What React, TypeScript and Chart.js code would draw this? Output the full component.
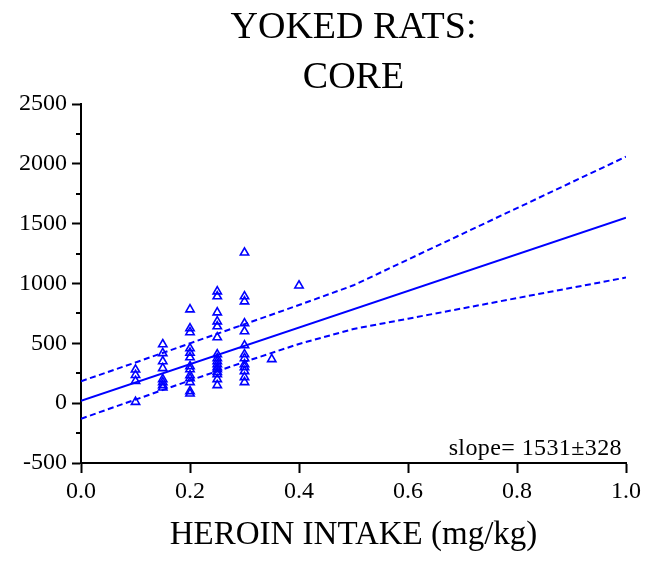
import React, { useEffect, useRef } from 'react';
import { Chart, registerables } from 'chart.js';

Chart.register(...registerables);

// ---- data ----
const DOSE_010 = [280, 235, 185, 10];
const DOSE_015 = [492, 417, 350, 292, 200, 175, 150, 130];
const DOSE_020 = [783, 625, 592, 458, 420, 383, 308, 283, 233, 208, 175, 100, 80];
const DOSE_025 = [933, 892, 758, 683, 642, 550, 408, 375, 350, 325, 300, 283, 260, 242, 200, 150];
const DOSE_030 = [1258, 892, 850, 667, 600, 483, 408, 375, 325, 300, 267, 217, 175];
const DOSE_035 = [367];
const DOSE_040 = [983];

const FIT_X = [0, 1];
const FIT_Y = [20, 1550];

const BAND_X = [0, 0.1, 0.2, 0.3, 0.4, 0.5, 0.6, 0.7, 0.8, 0.9, 1.0];
const BAND_UPPER = [183, 340, 500, 660, 820, 985, 1200, 1415, 1630, 1845, 2060];
const BAND_LOWER = [-130, 30, 190, 345, 495, 620, 706, 792, 878, 964, 1050];

const Y_MINOR = [-250, 250, 750, 1250, 1750, 2250];

const TITLE = ['YOKED RATS:', 'CORE'];
const X_TITLE = 'HEROIN INTAKE (mg/kg)';
const SLOPE_TEXT = 'slope= 1531\u00B1328';

const FONT = '"Liberation Serif", "Times New Roman", serif';
const BLUE = '#0000ff';

const groups: [number, number[]][] = [
  [0.1, DOSE_010],
  [0.15, DOSE_015],
  [0.2, DOSE_020],
  [0.25, DOSE_025],
  [0.3, DOSE_030],
  [0.35, DOSE_035],
  [0.4, DOSE_040],
];

export default function App() {
  const ref = useRef<HTMLCanvasElement | null>(null);

  useEffect(() => {
    if (!ref.current) return;
    const points = groups.flatMap(([x, ys]) => ys.map((y) => ({ x, y })));
    const fit = FIT_X.map((x, i) => ({ x, y: FIT_Y[i] }));
    const upper = BAND_X.map((x, i) => ({ x, y: BAND_UPPER[i] }));
    const lower = BAND_X.map((x, i) => ({ x, y: BAND_LOWER[i] }));

    const extras = {
      id: 'extras',
      afterDraw(chart: any) {
        const { ctx, chartArea, scales } = chart;
        const y = scales.y;
        ctx.save();
        ctx.strokeStyle = '#000';
        ctx.lineWidth = 2;
        for (const v of Y_MINOR) {
          const py = Math.round(y.getPixelForValue(v));
          ctx.beginPath();
          ctx.moveTo(chartArea.left - 5, py);
          ctx.lineTo(chartArea.left, py);
          ctx.stroke();
        }
        ctx.fillStyle = '#000';
        // title centred over the plot area
        ctx.font = `38px ${FONT}`;
        ctx.textAlign = 'center';
        ctx.textBaseline = 'alphabetic';
        const cx = (chartArea.left + chartArea.right) / 2;
        ctx.fillText(TITLE[0], cx, 38);
        ctx.fillText(TITLE[1], cx, 88);
        // slope annotation
        ctx.font = `24px ${FONT}`;
        (ctx as any).letterSpacing = '0.4px';
        ctx.textAlign = 'right';
        ctx.fillText(SLOPE_TEXT, chartArea.right - 4, chartArea.bottom - 8);
        ctx.restore();
      },
    };

    const chart = new Chart(ref.current, {
      type: 'scatter',
      data: {
        datasets: [
          {
            data: points,
            pointStyle: 'triangle',
            pointRadius: 4.8,
            pointBorderColor: BLUE,
            pointBackgroundColor: 'rgba(255,255,255,0)',
            pointBorderWidth: 1.6,
            showLine: false,
          },
          {
            data: fit,
            showLine: true,
            borderColor: BLUE,
            borderWidth: 2,
            pointRadius: 0,
          },
          {
            data: upper,
            showLine: true,
            borderColor: BLUE,
            borderWidth: 2,
            borderDash: [6, 3.5],
            pointRadius: 0,
          },
          {
            data: lower,
            showLine: true,
            borderColor: BLUE,
            borderWidth: 2,
            borderDash: [6, 3.5],
            pointRadius: 0,
          },
        ],
      },
      options: {
        responsive: false,
        animation: false,
        events: [],
        layout: { padding: { top: 104, left: 0, right: 19, bottom: 0 } },
        plugins: {
          legend: { display: false },
          tooltip: { enabled: false },
          title: { display: false },
        },
        scales: {
          x: {
            type: 'linear',
            min: 0,
            max: 1,
            ticks: {
              stepSize: 0.2,
              color: '#000',
              font: { family: FONT, size: 24 },
              padding: 4,
              maxRotation: 0,
              callback: (v: any) => Number(v).toFixed(1),
            },
            grid: {
              drawOnChartArea: false,
              drawTicks: true,
              tickLength: 10,
              tickColor: '#000',
              tickWidth: 2,
            },
            border: { display: true, color: '#000', width: 2 },
            title: {
              display: true,
              text: X_TITLE,
              color: '#000',
              font: { family: FONT, size: 33, lineHeight: 1.2 },
              padding: { top: 0, bottom: 6 },
            },
            afterFit: (s: any) => {
              s.height = 98;
            },
          },
          y: {
            type: 'linear',
            min: -500,
            max: 2500,
            ticks: {
              stepSize: 500,
              color: '#000',
              font: { family: FONT, size: 24 },
              padding: 5,
              callback: (v: any) => String(v),
            },
            grid: {
              drawOnChartArea: false,
              drawTicks: true,
              tickLength: 9,
              tickColor: '#000',
              tickWidth: 2,
            },
            border: { display: true, color: '#000', width: 2 },
            afterFit: (s: any) => {
              s.width = 81;
            },
          },
        },
      },
      plugins: [extras],
    } as any);
    return () => chart.destroy();
  }, []);

  return (
    <div style={{ position: 'absolute', left: 0, top: 0, width: 645, height: 561, background: '#fff' }}>
      <canvas ref={ref} width={645} height={561} style={{ width: 645, height: 561, display: 'block' }} />
    </div>
  );
}
